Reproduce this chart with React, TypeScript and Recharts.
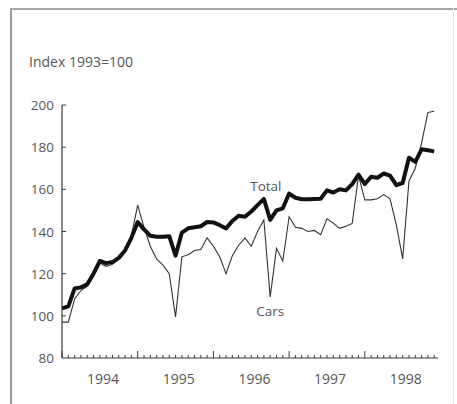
import { LineChart, Line, XAxis, YAxis } from 'recharts';

// Monthly index values, Jan 1994 – Dec 1998
const total = [
  103.5, 104.5, 113, 113.5, 115, 120, 126, 125, 125.5, 127.5, 131, 137,
  144.5, 141, 138, 137.5, 137.5, 137.8, 128.5, 139.5, 141.5, 142, 142.5, 144.5,
  144.3, 143, 141.5, 145, 147.5, 147, 149.5, 152.5, 155.5, 145.5, 150, 151,
  158, 156, 155.3, 155.3, 155.4, 155.5, 159.5, 158.5, 160, 159.5, 162.5, 167,
  162.5, 166, 165.5, 167.5, 166.5, 162, 163, 175, 173, 179, 178.5, 178,
];
const cars = [
  97, 97, 108, 112, 114, 119, 125, 123.5, 124.5, 127, 131, 138,
  152.5, 142, 133, 127, 124, 120, 99.5, 128, 129, 131, 131.5, 137,
  133, 128, 120, 128.5, 133.5, 137, 133, 140, 145.5, 109, 132, 126,
  147, 142, 141.5, 140, 140.5, 138.5, 146, 144, 141.5, 142.5, 143.8, 166.5,
  155, 155, 155.5, 157.5, 155.5, 143, 127, 164, 170, 182, 196.5, 197,
];
const years = ['1994', '1995', '1996', '1997', '1998'];
const yTicks = [80, 100, 120, 140, 160, 180, 200];

const data = total.map((t, i) => ({ m: i, total: t, cars: cars[i] }));
const monthTicks = total.map((_, i) => i);
const yearTicks = years.map((_, i) => i * 12 + 6.5);

const INK = '#3a3a3a';
const TEXT = '#555';
const FONT = '"Open Sans", sans-serif';

const XTick = (props: any) => {
  const { x, y, payload } = props;
  const v = payload.value;
  const yi = yearTicks.indexOf(v);
  if (yi >= 0) {
    return (
      <text x={x} y={y + 25.5} textAnchor="middle" fontSize={14} fill={TEXT} fontFamily={FONT}>
        {years[yi]}
      </text>
    );
  }
  const h = v % 12 === 0 ? 7 : 3;
  return <line x1={x} x2={x} y1={y} y2={y - h} stroke={INK} strokeWidth={1} />;
};

const YTick = (props: any) => {
  const { x, y, payload } = props;
  return (
    <g>
      {payload.value !== 80 && <line x1={x} x2={x + 4} y1={y} y2={y} stroke={INK} strokeWidth={1} />}
      <text x={x - 8} y={y + 5} textAnchor="end" fontSize={13.5} fill={TEXT} fontFamily={FONT}>
        {payload.value}
      </text>
    </g>
  );
};

const totalLabel = (p: any) =>
  p.index === 32 ? (
    <text key="lbl-total" x={p.x + 2} y={p.y - 8} textAnchor="middle" fontSize={13.5} fill={TEXT} fontFamily={FONT}>
      Total
    </text>
  ) : null;

const carsLabel = (p: any) =>
  p.index === 33 ? (
    <text key="lbl-cars" x={p.x} y={p.y + 19.5} textAnchor="middle" fontSize={13.5} fill={TEXT} fontFamily={FONT}>
      Cars
    </text>
  ) : null;

export default function App() {
  return (
    <div style={{ position: 'absolute', left: 0, top: 0, width: 457, height: 404, background: '#fff', overflow: 'hidden' }}>
      {/* frame */}
      <div style={{ position: 'absolute', left: 10, top: 8, width: 2, height: 396, background: '#9a9a9a' }} />
      <div style={{ position: 'absolute', left: 10, top: 8, width: 447, height: 2, background: '#a8a8a8' }} />
      <div style={{ position: 'absolute', left: 453, top: 8, width: 1, height: 396, background: '#e2e2e2' }} />
      <div
        style={{
          position: 'absolute', left: 29, top: 52, fontFamily: FONT, fontSize: 14,
          lineHeight: '19px', color: TEXT, whiteSpace: 'nowrap',
        }}
      >
        Index 1993=100
      </div>
      <div style={{ position: 'absolute', left: 0, top: 0 }}>
        <LineChart width={457} height={404} data={data} margin={{ top: 105, right: 19, left: 22, bottom: 16 }}>
          <XAxis
            dataKey="m"
            type="number"
            domain={[0, 59.6]}
            ticks={[...monthTicks, ...yearTicks]}
            interval={0}
            tick={<XTick />}
            tickLine={false}
            tickSize={0}
            tickMargin={0}
            height={30}
            stroke={INK}
            strokeWidth={1.2}
          />
          <YAxis
            type="number"
            domain={[80, 200]}
            ticks={yTicks}
            interval={0}
            tick={<YTick />}
            tickLine={false}
            tickSize={0}
            tickMargin={0}
            width={40}
            stroke={INK}
            strokeWidth={1.2}
          />
          <Line
            dataKey="cars"
            stroke="#333"
            strokeWidth={1.1}
            dot={false}
            isAnimationActive={false}
            label={carsLabel}
          />
          <Line
            dataKey="total"
            stroke="#111"
            strokeWidth={4}
            strokeLinejoin="round"
            dot={false}
            isAnimationActive={false}
            label={totalLabel}
          />
        </LineChart>
      </div>
    </div>
  );
}
